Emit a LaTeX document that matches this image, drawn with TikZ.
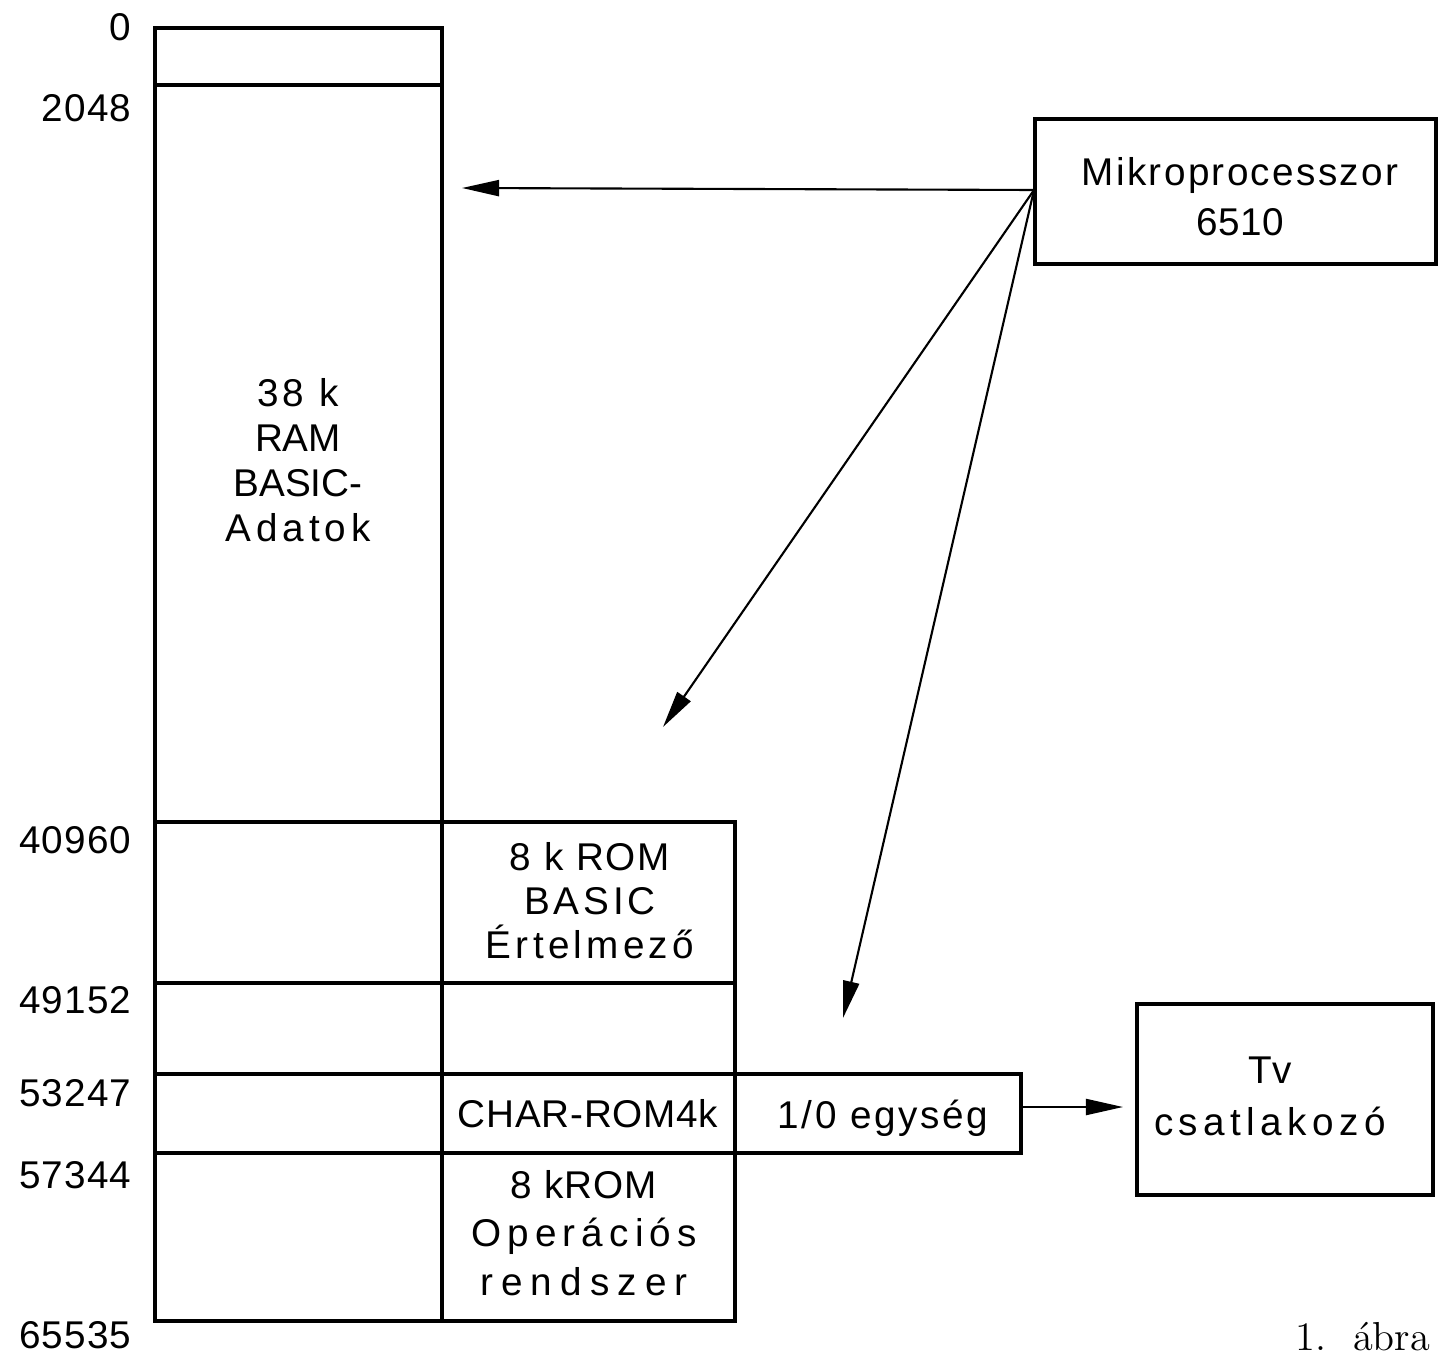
\documentclass[tikz,border=0pt]{standalone}
\usepackage{fontspec}
\setmainfont{Latin Modern Roman}
\newfontfamily\din{Liberation Sans}
\usetikzlibrary{arrows.meta}
\newcommand\ls[2]{{\addfontfeatures{LetterSpace=#1}#2}}
\begin{document}
\begin{tikzpicture}[x=0.01cm,y=-0.01cm,
  frame/.style={draw, line width=1pt},
  lbl/.style={font=\din\fontsize{11}{12.8}\selectfont, align=center, inner sep=0pt},
  num/.style={font=\din\fontsize{11}{13}\selectfont, anchor=east, inner sep=0pt},
  arr/.style={line width=0.6pt, -{Triangle[length=3.7mm,width=1.6mm]}}]
\useasboundingbox (0,0) rectangle (1446,1355);

% memory map frame
\draw[frame] (155,28) rectangle (442,1321);
\draw[frame] (155,85) -- (442,85);
\draw[frame] (155,822) rectangle (735,1321);
\draw[frame] (155,983) -- (735,983);
\draw[frame] (155,1074) -- (735,1074);
\draw[frame] (155,1153) -- (735,1153);
\draw[frame] (735,1074) rectangle (1021,1153);

% address labels
\node[num] (a0)     at (132,27)   {\ls{3}{0}};
\node[num] (a2048)  at (132,108)  {\ls{3}{2048}};
\node[num] (a40960) at (132,840)  {\ls{3}{40960}};
\node[num] (a49152) at (132,1000) {\ls{3}{49152}};
\node[num] (a53247) at (132,1093) {\ls{3}{53247}};
\node[num] (a57344) at (132,1175) {\ls{3}{57344}};
\node[num] (a65535) at (132,1335) {\ls{3}{65535}};

% cell texts
\node[lbl] (ram) at (298,460) {\ls{11}{38 k}\\\ls{0}{RAM}\\\ls{0}{BASIC-}\\\ls{13}{Adatok}};
\node[lbl, font=\din\fontsize{11}{12.5}\selectfont] (rombasic) at (590,901) {\ls{5}{8 k ROM}\\\ls{10}{BASIC}\\\ls{11}{Értelmező}};
\node[lbl, anchor=base] (charrom) at (588,1127) {\ls{2}{CHAR-ROM4k}};
\node[lbl, anchor=base] (io) at (883,1128) {\ls{7}{1/0 egység}};
\node[lbl, font=\din\fontsize{11}{13.7}\selectfont] (romos) at (584,1233) {\ls{3}{8 kROM}\\\ls{16}{Operációs}\\\ls{21}{rendszer}};

% external boxes
\node[frame, lbl, font=\din\fontsize{11}{14.2}\selectfont, minimum width=4.01cm, minimum height=1.45cm] (mp) at (1235.5,191.5) {};
\node[lbl, font=\din\fontsize{11}{14.2}\selectfont] (mptext) at (1240,197) {\ls{6}{Mikroprocesszor}\\\ls{1}{6510}};
\node[frame, minimum width=2.96cm, minimum height=1.91cm] (tv) at (1285,1099.5) {};
\node[lbl, font=\din\fontsize{11}{14.8}\selectfont] (tvtext) at (1270,1096) {\ls{0}{Tv}\\\ls{14}{csatlakozó}};

% caption
\node[inner sep=0pt, font=\rmfamily\fontsize{11.5}{13}\selectfont] (cap) at (1363,1337) {1.\ \ ábra};

% connectors
\coordinate (mpo) at (1034,190);
\coordinate (ramtip) at (462,188);
\coordinate (romtip) at (663,727);
\coordinate (iotip) at (843,1018);
\coordinate (ioout) at (1021,1107);
\coordinate (tvtip) at (1123,1107);
\draw[arr] (mpo) -- (ramtip);
\draw[arr] (mpo) -- (romtip);
\draw[arr] (mpo) -- (iotip);
\draw[arr] (ioout) -- (tvtip);
\end{tikzpicture}
\end{document}
